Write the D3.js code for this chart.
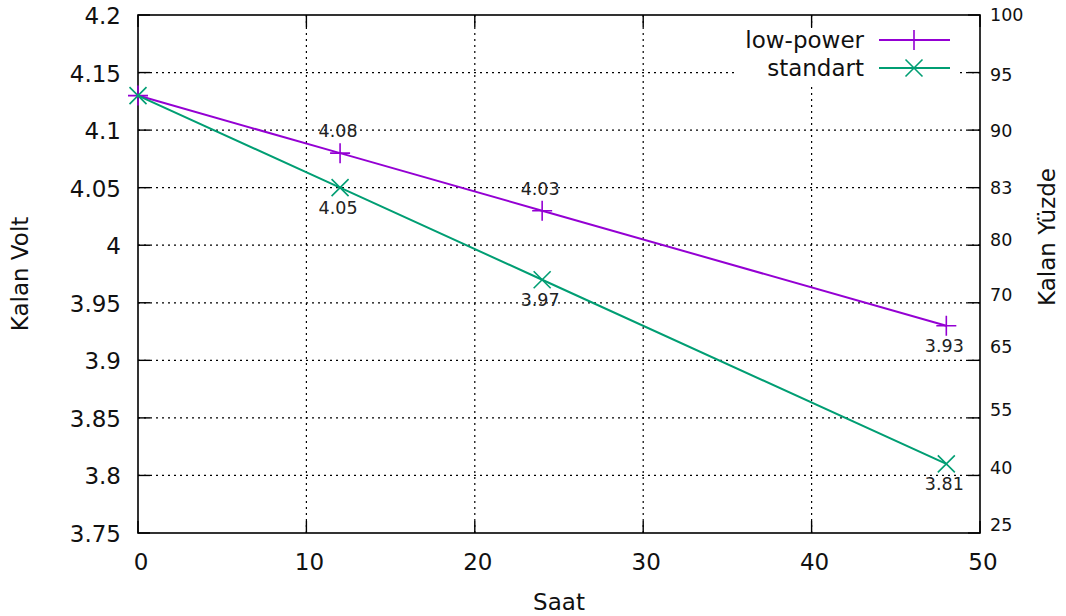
<!DOCTYPE html>
<html>
<head>
<meta charset="utf-8">
<script src="https://cdn.jsdelivr.net/npm/d3@7"></script>
<style>
  body { margin: 0; background: #fff; }
  svg { display: block; font-family: 'DejaVu Sans', Verdana, sans-serif; }
</style>
</head>
<body>
<div id="chart"></div>
<script>
// data
const hours = [0, 12, 24, 48];
const lowPower = [4.13, 4.08, 4.03, 3.93];
const standart = [4.13, 4.05, 3.97, 3.81];
const seriesNames = ['low-power', 'standart'];

// which points get a value label, and where (above / below)
const lowPowerLabels = [null, 'above', 'above', 'below'];
const standartLabels = [null, 'below', 'below', 'below'];

const xTicks = [0, 10, 20, 30, 40, 50];
const yTicks = [3.75, 3.8, 3.85, 3.9, 3.95, 4, 4.05, 4.1, 4.15, 4.2];
// right axis: percent labels, placed at voltage heights
const y2Labels = ['100', '95', '90', '83', '80', '70', '65', '55', '40', '25'];
const y2Volts = [4.2, 4.148, 4.099, 4.05, 4.005, 3.957, 3.912, 3.857, 3.807, 3.757];

const config = {
  width: 1066,
  height: 616,
  margin: { top: 15, right: 86, bottom: 83, left: 138 },
  colors: ['#9400d3', '#009e73'],
  fontSize: 23,
  smallFont: 17.5,
  tickLen: 12,
};

const svg = d3.select('#chart')
  .append('svg')
  .attr('width', config.width)
  .attr('height', config.height);

const m = config.margin;
const innerW = config.width - m.left - m.right;
const innerH = config.height - m.top - m.bottom;

const x = d3.scaleLinear().domain([0, 50]).range([m.left, m.left + innerW]);
const y = d3.scaleLinear().domain([3.75, 4.2]).range([m.top + innerH, m.top]);

const plotLeft = m.left;
const plotRight = m.left + innerW;
const plotTop = m.top;
const plotBottom = m.top + innerH;

// grid
const grid = svg.append('g')
  .attr('stroke', '#000')
  .attr('stroke-width', 1.2)
  .attr('stroke-dasharray', '2,4');

grid.selectAll('line.gy')
  .data(yTicks.filter((d) => d > 3.75 && d < 4.2))
  .join('line')
  .attr('class', 'gy')
  .attr('x1', plotLeft).attr('x2', plotRight)
  .attr('y1', (d) => y(d)).attr('y2', (d) => y(d));

grid.selectAll('line.gx')
  .data(xTicks.filter((d) => d > 0 && d < 50))
  .join('line')
  .attr('class', 'gx')
  .attr('x1', (d) => x(d)).attr('x2', (d) => x(d))
  .attr('y1', plotTop).attr('y2', plotBottom);

// tick marks on all four sides (mirrored)
const ticks = svg.append('g').attr('stroke', '#000').attr('stroke-width', 1.4);
yTicks.forEach((d) => {
  ticks.append('line').attr('x1', plotLeft).attr('x2', plotLeft + config.tickLen)
    .attr('y1', y(d)).attr('y2', y(d));
  ticks.append('line').attr('x1', plotRight - config.tickLen).attr('x2', plotRight)
    .attr('y1', y(d)).attr('y2', y(d));
});
xTicks.forEach((d) => {
  ticks.append('line').attr('x1', x(d)).attr('x2', x(d))
    .attr('y1', plotBottom).attr('y2', plotBottom - config.tickLen);
  ticks.append('line').attr('x1', x(d)).attr('x2', x(d))
    .attr('y1', plotTop).attr('y2', plotTop + config.tickLen);
});

// tick labels
const labels = svg.append('g')
  .attr('font-size', config.fontSize)
  .attr('fill', '#111');

labels.selectAll('text.ylab')
  .data(yTicks)
  .join('text')
  .attr('class', 'ylab')
  .attr('x', plotLeft - 17)
  .attr('y', (d) => y(d) + 1)
  .attr('dy', '0.35em')
  .attr('text-anchor', 'end')
  .text((d) => d3.format('')(d));

labels.selectAll('text.xlab')
  .data(xTicks)
  .join('text')
  .attr('class', 'xlab')
  .attr('x', (d) => x(d) + 3)
  .attr('y', plotBottom + 29)
  .attr('dy', '0.35em')
  .attr('text-anchor', 'middle')
  .text((d) => d);

labels.selectAll('text.y2lab')
  .data(y2Labels)
  .join('text')
  .attr('class', 'y2lab')
  .attr('x', plotRight + 10)
  .attr('y', (d, i) => y(y2Volts[i]))
  .attr('dy', '0.35em')
  .attr('text-anchor', 'start')
  .attr('font-size', config.smallFont)
  .text((d) => d);

// axis titles
labels.append('text')
  .attr('transform', 'translate(20,274) rotate(-90)')
  .attr('dy', '0.35em')
  .attr('text-anchor', 'middle')
  .text('Kalan Volt');

labels.append('text')
  .attr('transform', 'translate(1047,237) rotate(-90)')
  .attr('dy', '0.35em')
  .attr('text-anchor', 'middle')
  .text('Kalan Yüzde');

labels.append('text')
  .attr('x', 559)
  .attr('y', 602)
  .attr('dy', '0.35em')
  .attr('text-anchor', 'middle')
  .text('Saat');

// border
svg.append('rect')
  .attr('x', plotLeft).attr('y', plotTop)
  .attr('width', innerW).attr('height', innerH)
  .attr('fill', 'none')
  .attr('stroke', '#000')
  .attr('stroke-width', 1.6);

// legend box (white, hides the grid)
svg.append('rect')
  .attr('x', 735).attr('y', 28)
  .attr('width', 222).attr('height', 55)
  .attr('fill', '#fff');

function plusPath(cx, cy, r) {
  return `M${cx - r},${cy}H${cx + r}M${cx},${cy - r}V${cy + r}`;
}

function crossPath(cx, cy, r) {
  return `M${cx - r},${cy - r}L${cx + r},${cy + r}M${cx - r},${cy + r}L${cx + r},${cy - r}`;
}

const series = [
  { name: seriesNames[0], values: lowPower, where: lowPowerLabels, marker: plusPath, r: 10 },
  { name: seriesNames[1], values: standart, where: standartLabels, marker: crossPath, r: 8.5 },
];

const line = d3.line()
  .x((d) => x(d[0]))
  .y((d) => y(d[1]));

series.forEach((s, k) => {
  const pts = hours.map((h, i) => [h, s.values[i]]);
  const color = config.colors[k];

  svg.append('path')
    .datum(pts)
    .attr('d', line)
    .attr('fill', 'none')
    .attr('stroke', color)
    .attr('stroke-width', 2);

  svg.append('path')
    .attr('d', pts.map((p) => s.marker(x(p[0]), y(p[1]), s.r)).join(''))
    .attr('fill', 'none')
    .attr('stroke', color)
    .attr('stroke-width', 1.6);

  // value labels
  svg.append('g')
    .attr('font-size', config.smallFont)
    .attr('fill', '#222')
    .selectAll('text')
    .data(pts.filter((p, i) => s.where[i]))
    .join('text')
    .attr('x', (p) => x(p[0]) - 2)
    .attr('y', (p) => {
      const i = hours.indexOf(p[0]);
      return y(p[1]) + (s.where[i] === 'above' ? -22 : 20);
    })
    .attr('dy', '0.35em')
    .attr('text-anchor', 'middle')
    .text((p) => d3.format('.2f')(p[1]));

  // legend entry
  const ly = 40 + k * 28;
  svg.append('text')
    .attr('x', 864)
    .attr('y', ly)
    .attr('dy', '0.35em')
    .attr('text-anchor', 'end')
    .attr('font-size', config.fontSize)
    .attr('fill', '#111')
    .text(s.name);
  svg.append('line')
    .attr('x1', 879).attr('x2', 950)
    .attr('y1', ly).attr('y2', ly)
    .attr('stroke', color)
    .attr('stroke-width', 2);
  svg.append('path')
    .attr('d', s.marker(914, ly, s.r))
    .attr('fill', 'none')
    .attr('stroke', color)
    .attr('stroke-width', 1.6);
});
</script>
</body>
</html>
